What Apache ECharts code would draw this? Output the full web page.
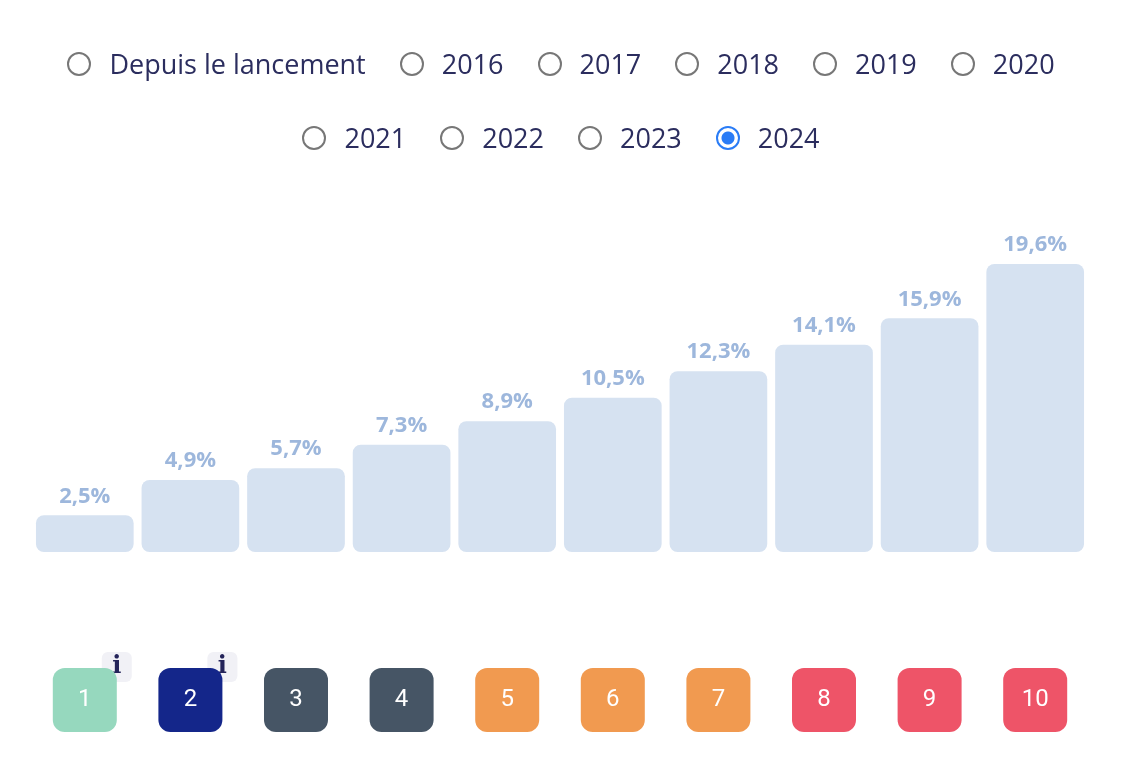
<html>
<head>
<meta charset="utf-8" />
<script src="https://cdn.jsdelivr.net/npm/echarts@6/dist/echarts.min.js"></script>
<style>
    body { margin: 0; background: #fff; font-family: "Open Sans", sans-serif; }
    #chart { position: absolute; left: 0; top: 0; width: 1122px; height: 778px; }
    .radios { position: absolute; left: 0; width: 1122px; display: flex; justify-content: center; gap: 34px; color: #2b2d5e; font-size: 27px; z-index: 2; }
    .radio { display: flex; align-items: center; gap: 18px; }
    .dot { width: 24px; height: 24px; border: 2px solid #777; border-radius: 50%; box-sizing: border-box; }
    .dot.on { border-color: #2a7cf6; background: radial-gradient(circle, #2a7cf6 0 6px, #fff 7px); }
</style>
</head>
<body>
<div class="radios" id="row1" style="top:45px"></div>
<div class="radios" id="row2" style="top:119px"></div>
<div id="chart"></div>
<script>
    const periods1 = ['Depuis le lancement', '2016', '2017', '2018', '2019', '2020'];
    const periods2 = ['2021', '2022', '2023', '2024'];
    const selected = '2024';
    const categories = ['1', '2', '3', '4', '5', '6', '7', '8', '9', '10'];
    const values = [2.5, 4.9, 5.7, 7.3, 8.9, 10.5, 12.3, 14.1, 15.9, 19.6];
    const badgeColors = ['#96d8be', '#14268a', '#465565', '#465565', '#f19a50', '#f19a50', '#f19a50', '#ee5468', '#ee5468', '#ee5468'];
    const infoBadges = ['1', '2'];

    function fillRow(id, items) {
        let row = document.getElementById(id);
        items.forEach(p => {
            row.innerHTML += `<div class="radio"><div class="dot${p === selected ? ' on' : ''}"></div><span>${p}</span></div>`;
        });
    }
    fillRow('row1', periods1);
    fillRow('row2', periods2);

    let rich = {};
    badgeColors.forEach((c, i) => {
        rich['b' + i] = {
            backgroundColor: c, color: '#fff', width: 64, height: 64, lineHeight: 64,
            borderRadius: 12, align: 'center', fontSize: 24, fontFamily: 'Roboto'
        };
    });

    let chart = echarts.init(document.getElementById('chart'));
    chart.setOption({
        animation: false,
        grid: { left: 32, right: 34, top: 258, bottom: 226 },
        xAxis: {
            type: 'category',
            data: categories,
            axisLine: { show: false },
            axisTick: { show: false },
            axisLabel: {
                margin: 116,
                interval: 0,
                formatter: (v, i) => `{b${i}|${v}}`,
                rich: rich
            }
        },
        yAxis: { type: 'value', min: 0, max: 20, show: false, splitLine: { show: false } },
        series: [{
            type: 'bar',
            data: values,
            barCategoryGap: '7.5%',
            itemStyle: { color: '#d6e2f1', borderRadius: 8 },
            label: {
                show: true,
                position: 'top',
                distance: 8,
                color: '#9db7dc',
                fontSize: 22,
                fontWeight: 'bold',
                fontFamily: 'Open Sans',
                formatter: p => String(p.value).replace('.', ',') + '%'
            }
        }]
    });

    let graphics = [];
    infoBadges.forEach(c => {
        let x = chart.convertToPixel({ xAxisIndex: 0 }, c);
        graphics.push({
            type: 'rect', x: x + 17, y: 652, shape: { width: 30, height: 30, r: 6 },
            style: { fill: '#f1f1f6' }
        });
        graphics.push({
            type: 'text', x: x + 32, y: 667,
            style: { text: 'i', fill: '#24245a', font: 'bold 24px "DejaVu Serif"', align: 'center', verticalAlign: 'middle' }
        });
    });
    chart.setOption({ graphic: graphics });
</script>
</body>
</html>
